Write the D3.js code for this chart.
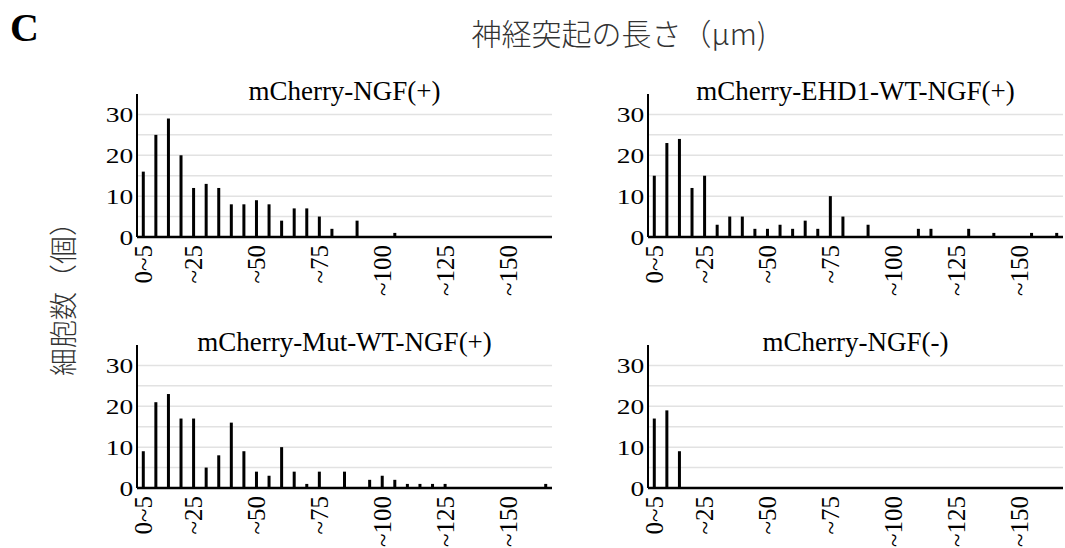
<!DOCTYPE html>
<html>
<head>
<meta charset="utf-8">
<script src="https://cdn.jsdelivr.net/npm/d3@7"></script>
<style>
  body { margin: 0; background: #fff; }
</style>
</head>
<body>
<div class="center"></div>
<script>
// bins of 5 um, 0~5 up to ~165
const bins = ["0~5","~10","~15","~20","~25","~30","~35","~40","~45","~50","~55","~60","~65","~70","~75","~80",
              "~85","~90","~95","~100","~105","~110","~115","~120","~125","~130","~135","~140","~145","~150","~155","~160","~165"];
const shownBins = ["0~5","~25","~50","~75","~100","~125","~150"];
const yTicks = [0, 10, 20, 30];
const gridTicks = [5, 10, 15, 20, 25, 30];

const titles = ["mCherry-NGF(+)", "mCherry-EHD1-WT-NGF(+)", "mCherry-Mut-WT-NGF(+)", "mCherry-NGF(-)"];

const ngfPlus   = [16,25,29,20,12,13,12,8,8,9,8,4,7,7,5,2,0,4,0,0,1,0,0,0,0,0,0,0,0,0,0,0,0];
const ehd1Wt    = [15,23,24,12,15,3,5,5,2,2,3,2,4,2,10,5,0,3,0,0,0,2,2,0,0,2,0,1,0,0,1,0,1];
const mutWt     = [9,21,23,17,17,5,8,16,9,4,3,10,4,1,4,0,4,0,2,3,2,1,1,1,1,0,0,0,0,0,0,0,1];
const ngfMinus  = [17,19,9,0,0,0,0,0,0,0,0,0,0,0,0,0,0,0,0,0,0,0,0,0,0,0,0,0,0,0,0,0,0];

const series = [ngfPlus, ehd1Wt, mutWt, ngfMinus];

// panel placement
const cols = [137, 648];
const rows = [{top: 94, base: 237}, {top: 345, base: 488}];
const plotW = 415;

const svg = d3.select(".center").append("svg")
  .attr("width", 1065)
  .attr("height", 548);

// top-left letter
svg.append("text")
  .attr("x", 10).attr("y", 41)
  .style("font-family", "'Liberation Serif', serif")
  .style("font-weight", "700")
  .style("font-size", "40px")
  .text("C");

// overall x title
svg.append("text")
  .attr("x", 619).attr("y", 45)
  .attr("text-anchor", "middle")
  .style("font-family", "'Noto Sans CJK JP', sans-serif")
  .style("font-weight", "300")
  .style("font-size", "30px")
  .style("fill", "#333")
  .text("神経突起の長さ（μm)");

// overall y title
svg.append("text")
  .attr("transform", "translate(64,292) rotate(-90)")
  .attr("text-anchor", "middle")
  .attr("dy", "0.35em")
  .style("font-family", "'Noto Sans CJK JP', sans-serif")
  .style("font-weight", "300")
  .style("font-size", "28px")
  .style("fill", "#333")
  .text("細胞数（個）");

series.forEach(function(values, i) {
  const x0 = cols[i % 2];
  const row = rows[Math.floor(i / 2)];

  const xScale = d3.scaleBand().domain(bins).range([x0, x0 + plotW]);
  const yScale = d3.scaleLinear().domain([0, 35]).range([row.base, row.top]);

  const g = svg.append("g");

  // grid
  g.selectAll("line.grid")
    .data(gridTicks)
    .enter().append("line")
    .attr("class", "grid")
    .attr("x1", x0).attr("x2", x0 + plotW)
    .attr("y1", d => yScale(d)).attr("y2", d => yScale(d))
    .style("stroke", "#e2e2e2")
    .style("stroke-width", 1.5);

  // bars
  g.selectAll("rect")
    .data(values.map((v, k) => ({bin: bins[k], v: v})).filter(d => d.v > 0))
    .enter().append("rect")
    .attr("x", d => xScale(d.bin) + xScale.bandwidth() / 2 - 1.5)
    .attr("y", d => yScale(d.v))
    .attr("width", 3)
    .attr("height", d => row.base - yScale(d.v))
    .style("fill", "#000");

  // y axis
  const yAxis = d3.axisLeft(yScale).tickValues(yTicks).tickSize(0).tickPadding(0);
  const ya = g.append("g")
    .attr("transform", `translate(${x0},0)`)
    .call(yAxis);
  ya.select(".domain").remove();
  ya.selectAll("text")
    .attr("x", -3)
    .attr("transform", "scale(1.25,1)")
    .style("font-family", "'Liberation Serif', serif")
    .style("font-size", "22px")
    .style("fill", "#000");
  g.append("line")
    .attr("x1", x0).attr("x2", x0)
    .attr("y1", yScale(35)).attr("y2", row.base)
    .style("stroke", "#000").style("stroke-width", 2);

  // x axis
  const xAxis = d3.axisBottom(xScale).tickValues(shownBins).tickSize(0);
  const xa = g.append("g")
    .attr("transform", `translate(0,${row.base})`)
    .call(xAxis);
  xa.select(".domain").remove();
  xa.selectAll("text")
    .attr("transform", "rotate(-90)")
    .attr("text-anchor", "end")
    .attr("x", -8)
    .attr("y", 0)
    .attr("dy", "0.35em")
    .style("font-family", "'Liberation Serif', serif")
    .style("font-size", "25px")
    .style("fill", "#000");
  g.append("line")
    .attr("x1", x0).attr("x2", x0 + plotW)
    .attr("y1", row.base).attr("y2", row.base)
    .style("stroke", "#000").style("stroke-width", 2.5);

  // panel title
  g.append("text")
    .attr("x", x0 + plotW / 2)
    .attr("y", row.top + 6)
    .attr("text-anchor", "middle")
    .style("font-family", "'Liberation Serif', serif")
    .style("font-size", "27px")
    .text(titles[i]);
});
</script>
</body>
</html>
